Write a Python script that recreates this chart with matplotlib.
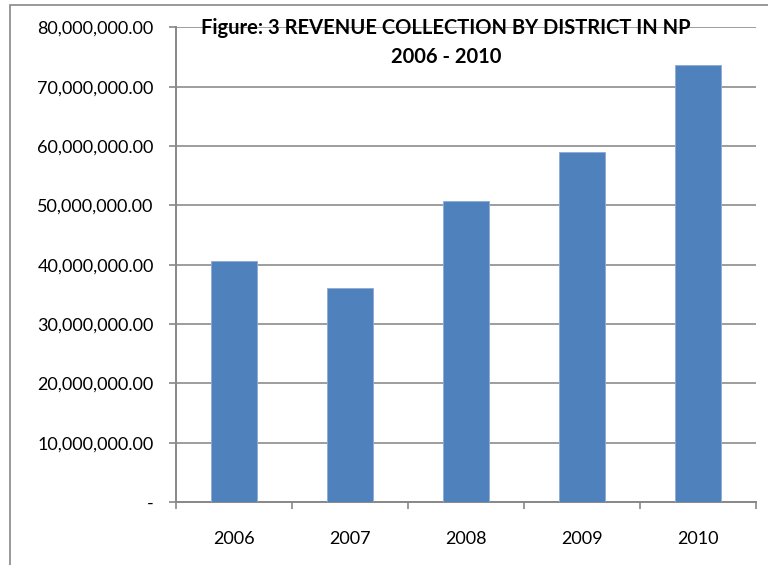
import matplotlib.pyplot as plt
from matplotlib.patches import Rectangle
from matplotlib.ticker import FuncFormatter, MultipleLocator, FixedLocator

# data
years = ['2006', '2007', '2008', '2009', '2010']
revenue = [40.6e6, 36.0e6, 50.7e6, 59.0e6, 73.7e6]

plt.rcParams['font.family'] = ['Lato', 'DejaVu Sans']

W, H = 768, 565
fig = plt.figure(figsize=(W / 100, H / 100), dpi=100)

# outer chart frame (runs off the right/bottom edge in the original)
fig.patches.append(Rectangle((10 / W, -0.1), 1.2, (H - 5) / H + 0.1,
                             transform=fig.transFigure, fill=False,
                             edgecolor='#888888', linewidth=1.2))

ax = fig.add_axes([176 / W, (H - 502) / H, (756 - 176) / W, (502 - 27.4) / H])

x = range(len(years))
ax.bar(x, revenue, width=0.4, color='#4F81BD', edgecolor='#8EAAD6', linewidth=0.6, zorder=3)

ax.set_xlim(-0.5, len(years) - 0.5)
ax.set_ylim(0, 80e6)
ax.yaxis.set_major_locator(MultipleLocator(10e6))


def fmt(v, pos):
    if abs(v) < 1:
        return '-'
    return f'{v:,.2f}'


ax.yaxis.set_major_formatter(FuncFormatter(fmt))
ax.grid(axis='y', color='#8c8c8c', linewidth=1.2, zorder=0)

ax.set_xticks(list(x))
ax.set_xticklabels(years)
ax.xaxis.set_minor_locator(FixedLocator([i - 0.5 for i in range(len(years) + 1)]))
ax.tick_params(axis='x', which='major', length=0, pad=21, labelsize=13)
ax.tick_params(axis='x', which='minor', length=5, color='#888888', width=1.2)
ax.tick_params(axis='y', length=5, color='#888888', width=1.2, pad=11, labelsize=13)

for s in ['top', 'right']:
    ax.spines[s].set_visible(False)
for s in ['left', 'bottom']:
    ax.spines[s].set_color('#888888')
    ax.spines[s].set_linewidth(1.4)

fig.text(446 / W, 1 - 28 / H, 'Figure: 3 REVENUE COLLECTION BY DISTRICT IN NP',
         ha='center', va='center', fontsize=14.5, fontweight='bold')
fig.text(446 / W, 1 - 57 / H, '2006 - 2010',
         ha='center', va='center', fontsize=14.5, fontweight='bold')

fig.savefig('out.png', dpi=100)
